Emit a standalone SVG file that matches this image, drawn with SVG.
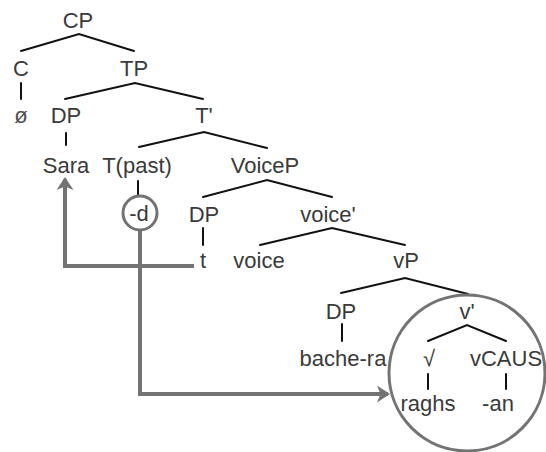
<svg xmlns="http://www.w3.org/2000/svg" width="546" height="452" viewBox="0 0 546 452">
<defs>
<style>
text{font-family:"Liberation Sans",Arial,Helvetica,sans-serif;font-size:22px;fill:#3a3a3a;text-anchor:middle}
.br{stroke:#111;stroke-width:2;fill:none;stroke-linecap:round}
.mv{stroke:#737373;stroke-width:4;fill:none}
.hl{stroke:#737373;stroke-width:3;fill:none}
.nul{fill:#505050}
</style>
<marker id="ah" viewBox="0 0 13 17" refX="11" refY="8.5" markerWidth="13" markerHeight="17" orient="auto" markerUnits="userSpaceOnUse">
<path d="M0,0 L13,8.5 L0,17 L3.5,8.5 Z" fill="#737373"/>
</marker>
</defs>
<rect width="546" height="452" fill="#fff"/>
<g id="connectors">
<path class="br" d="M21,51 L79,34 L134,51"/>
<path class="br" d="M21,83 L21,99"/>
<path class="br" d="M65,99 L135,83 L203,99"/>
<path class="br" d="M66,133 L66,145"/>
<path class="br" d="M139,147 L204,132 L267,148"/>
<path class="br" d="M138,181 L138,196"/>
<path class="br" d="M203,197 L267,180 L332,197"/>
<path class="br" d="M203,228 L203,245"/>
<path class="br" d="M260,245 L332,228 L405,245"/>
<path class="br" d="M341,293 L405,278 L468,294"/>
<path class="br" d="M342,324 L342,341"/>
<path class="br" d="M428,341 L467,325 L506,341"/>
<path class="br" d="M428,374 L428,389"/>
<path class="br" d="M506,374 L506,389"/>
<path class="mv" d="M194,266 L65,266 L65,179" marker-end="url(#ah)"/>
<path class="mv" d="M140,230 L140,394 L388,394" marker-end="url(#ah)"/>
<circle class="hl" cx="140" cy="213" r="17"/>
<circle class="hl" cx="467" cy="373" r="78"/>
</g>
<g id="n-CP"><text x="78" y="28">CP</text></g>
<g id="n-C"><text x="21" y="76">C</text></g>
<g id="n-null"><text class="nul" x="21" y="123">ø</text></g>
<g id="n-TP"><text x="134" y="76">TP</text></g>
<g id="n-DP1"><text x="66" y="123">DP</text></g>
<g id="n-Tbar"><text x="204" y="123">T'</text></g>
<g id="n-Sara"><text x="66" y="173">Sara</text></g>
<g id="n-Tpast"><text x="137" y="173">T(past)</text></g>
<g id="n-VoiceP"><text x="265" y="173">VoiceP</text></g>
<g id="n-d"><text x="139" y="221">-d</text></g>
<g id="n-DP2"><text x="204" y="222">DP</text></g>
<g id="n-voicebar"><text x="328" y="222">voice'</text></g>
<g id="n-t"><text x="203" y="268">t</text></g>
<g id="n-voice"><text x="259" y="268">voice</text></g>
<g id="n-vP"><text x="406" y="268">vP</text></g>
<g id="n-DP3"><text x="341" y="319">DP</text></g>
<g id="n-vbar"><text x="467" y="319">v'</text></g>
<g id="n-bachera"><text x="343" y="366">bache-ra</text></g>
<g id="n-root"><text x="429" y="366">√</text></g>
<g id="n-vCAUS"><text x="506" y="366">vCAUS</text></g>
<g id="n-raghs"><text x="428" y="411">raghs</text></g>
<g id="n-an"><text x="498" y="411">-an</text></g>
</svg>
